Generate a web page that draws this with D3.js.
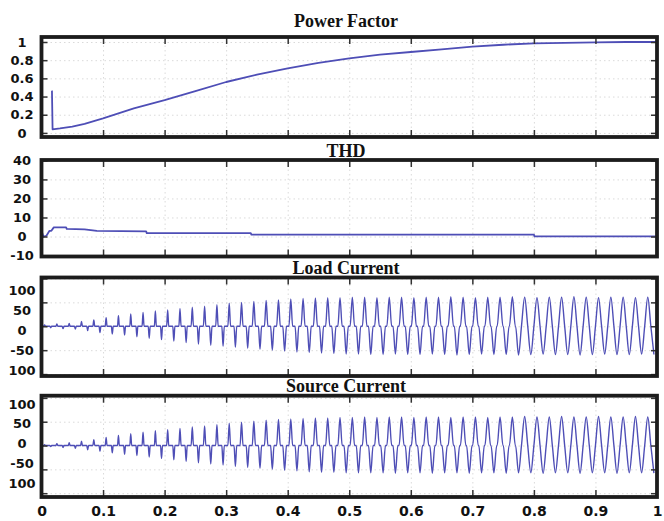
<!DOCTYPE html>
<html>
<head>
<meta charset="utf-8">
<script src="https://cdn.jsdelivr.net/npm/d3@7"></script>
<style>
  body { margin: 0; background: #fff; }
  svg { display: block; }
  .title { font-family: "Liberation Serif", "Times New Roman", serif; font-weight: bold; font-size: 18px; fill: #111; }
  .ylab text { font-family: "DejaVu Sans", sans-serif; font-weight: bold; font-size: 13px; fill: #111; }
  .xlab text { font-family: "DejaVu Sans", sans-serif; font-weight: bold; font-size: 14px; fill: #111; }
</style>
</head>
<body>
<div id="chart"></div>
<script>
// ---- data ----

// shared time axis
const timeTicks = [0, 0.1, 0.2, 0.3, 0.4, 0.5, 0.6, 0.7, 0.8, 0.9, 1];
const timeTickLabels = ["0", "0.1", "0.2", "0.3", "0.4", "0.5", "0.6", "0.7", "0.8", "0.9", "1"];

// power factor
const pfTime  = [0.0165, 0.017, 0.018, 0.03, 0.05, 0.07, 0.1, 0.15, 0.2, 0.25, 0.3, 0.35, 0.4, 0.45, 0.5, 0.55, 0.6, 0.65, 0.7, 0.75, 0.8, 0.85, 0.9, 0.95, 1];
const pfValue = [0.46, 0.46, 0.04, 0.05, 0.07, 0.1, 0.16, 0.27, 0.36, 0.46, 0.56, 0.64, 0.71, 0.77, 0.82, 0.86, 0.89, 0.92, 0.95, 0.97, 0.985, 0.99, 0.995, 1.0, 1.0];
const pfTicks = [0, 0.2, 0.4, 0.6, 0.8, 1];
const pfTickLabels = ["0", "0.2", "0.4", "0.6", "0.8", "1"];

// THD
const thdTime  = [0, 0.003, 0.008, 0.013, 0.016, 0.02, 0.04, 0.041, 0.07, 0.09, 0.17, 0.171, 0.34, 0.341, 0.8, 0.801, 1];
const thdValue = [3.3, -0.1, 0.4, 3.0, 3.0, 4.8, 4.8, 4.0, 3.8, 3.0, 2.7, 1.8, 1.8, 1.0, 1.0, 0.1, 0.1];
const thdTicks = [-10, 0, 10, 20, 30, 40];
const thdTickLabels = ["-10", "0", "10", "20", "30", "40"];

// currents: one positive and one negative peak per 50 Hz cycle
const linePeriod = 0.02;
const loadPeak = [3, 5, 6, 10, 13, 18, 22, 26, 29, 32,
                  34, 37, 40, 42, 45, 48, 50, 52, 54, 55,
                  57, 58, 59, 60, 60, 61, 61, 60, 61, 61,
                  60, 61, 61, 62, 61, 60, 61, 61, 62, 61,
                  60, 61, 61, 62, 61, 60, 61, 61, 60, 61];
const loadTrough = [-3, -5, -6, -9, -13, -16, -18, -22, -25, -28,
                    -31, -34, -37, -40, -42, -44, -46, -48, -50, -52,
                    -54, -55, -56, -57, -58, -58, -59, -59, -58, -59,
                    -59, -58, -59, -60, -59, -58, -59, -59, -60, -59,
                    -58, -59, -59, -60, -59, -58, -59, -59, -58, -59];
const sourcePeak = [2, 4, 6, 9, 12, 17, 21, 25, 28, 31,
                    33, 36, 39, 41, 44, 47, 49, 51, 53, 55,
                    56, 57, 58, 58, 59, 59, 60, 59, 60, 60,
                    59, 60, 60, 59, 60, 60, 59, 60, 60, 61,
                    60, 60, 61, 60, 60, 61, 60, 60, 61, 60];
const sourceTrough = [-2, -4, -6, -9, -12, -15, -18, -21, -24, -27,
                      -30, -33, -36, -39, -41, -44, -46, -48, -50, -52,
                      -53, -55, -56, -56, -57, -57, -57, -57, -58, -57,
                      -57, -58, -57, -57, -58, -57, -57, -58, -57, -57,
                      -58, -57, -57, -58, -57, -57, -58, -57, -57, -58];
// half width of each current pulse (s): narrow spikes early, full sine late
const pulseHalfWidth = [0.0015, 0.0015, 0.0015, 0.0015, 0.0015, 0.0015, 0.0015, 0.0015, 0.0016, 0.0016,
                        0.0017, 0.0018, 0.0019, 0.002, 0.002, 0.0022, 0.0024, 0.0026, 0.0028, 0.003,
                        0.003, 0.0032, 0.0033, 0.0034, 0.0035, 0.0036, 0.0037, 0.0038, 0.0039, 0.004,
                        0.004, 0.0041, 0.0042, 0.0043, 0.0044, 0.0045, 0.0046, 0.0047, 0.0048, 0.005,
                        0.005, 0.005, 0.005, 0.005, 0.005, 0.005, 0.005, 0.005, 0.005, 0.005];
const currentTicks = [-100, -50, 0, 50, 100];
const currentTickLabels = ["100", "-50", "0", "50", "100"];

// ---- build series ----
function zipSeries(ts, vs) {
  return ts.map((t, i) => ({ t: t, v: vs[i] }));
}

function currentSeries(peaks, troughs) {
  let pts = [{ t: 0, v: 0 }];
  peaks.forEach((p, i) => {
    let tp = linePeriod * i + linePeriod / 4;
    let tt = tp + linePeriod / 2;
    let w = pulseHalfWidth[i];
    if (w >= linePeriod / 4) {
      pts.push({ t: tp, v: p });
      pts.push({ t: tp + linePeriod / 4, v: 0 });
      pts.push({ t: tt, v: troughs[i] });
      if (i < peaks.length - 1) pts.push({ t: tt + linePeriod / 4, v: 0 });
    } else {
      pts.push({ t: tp - w, v: 0 }, { t: tp, v: p }, { t: tp + w, v: 0 });
      pts.push({ t: tt - w, v: 0 }, { t: tt, v: troughs[i] }, { t: tt + w, v: 0 });
    }
  });
  return pts;
}

const panels = [
  { title: "Power Factor", top: 37, bottom: 137, domain: [-0.045, 1.055], ticks: pfTicks, labels: pfTickLabels,
    labelRange: null, titleY: 27, data: zipSeries(pfTime, pfValue), curve: d3.curveLinear, lw: 1.8 },
  { title: "THD", top: 160, bottom: 256.5, domain: [-10.5, 40.2], ticks: thdTicks, labels: thdTickLabels,
    labelRange: null, titleY: 157, data: zipSeries(thdTime, thdValue), curve: d3.curveLinear, lw: 1.8 },
  { title: "Load Current", top: 277.5, bottom: 376, domain: [-104, 102], ticks: currentTicks, labels: currentTickLabels,
    labelRange: [370, 290], titleY: 273.5, data: currentSeries(loadPeak, loadTrough), curve: d3.curveMonotoneX, lw: 1.4 },
  { title: "Source Current", top: 395.7, bottom: 497, domain: [-108, 104.6], ticks: currentTicks, labels: currentTickLabels,
    labelRange: [483, 404], titleY: 392, data: currentSeries(sourcePeak, sourceTrough), curve: d3.curveMonotoneX, lw: 1.4 }
];

// ---- drawing ----
const width = 664, height = 521;
const svg = d3.select("#chart").append("svg")
  .attr("width", width)
  .attr("height", height);

const x = d3.scaleLinear().domain([0, 1]).range([41.5, 657]);
const innerTicks = timeTicks.slice(1, -1);
const lineColor = "#4e4eb6";

panels.forEach((p, idx) => {
  const y = d3.scaleLinear().domain(p.domain).range([p.bottom, p.top]);
  const g = svg.append("g");
  const h = p.bottom - p.top;
  const w = x(1) - x(0);

  // dotted grid
  const gx = g.append("g")
    .attr("transform", `translate(0,${p.bottom})`)
    .call(d3.axisBottom(x).tickValues(innerTicks).tickSize(-h).tickFormat(""));
  const gy = g.append("g")
    .attr("transform", `translate(${x(0)},0)`)
    .call(d3.axisLeft(y).tickValues(p.ticks).tickSize(-w).tickFormat(""));
  [gx, gy].forEach(a => {
    a.select(".domain").remove();
    a.selectAll("line").attr("stroke", "#dadada").attr("stroke-dasharray", "1.5,3");
  });

  // clip + line
  g.append("clipPath").attr("id", "clip" + idx)
    .append("rect").attr("x", x(0)).attr("y", p.top).attr("width", w).attr("height", h);

  const line = d3.line()
    .x(d => x(d.t))
    .y(d => y(d.v))
    .curve(p.curve);

  g.append("path")
    .datum(p.data)
    .attr("clip-path", `url(#clip${idx})`)
    .attr("fill", "none")
    .attr("stroke", lineColor)
    .attr("stroke-width", p.lw)
    .attr("stroke-linejoin", "round")
    .attr("d", line);

  // inward tick marks on all four sides
  const tickStyle = sel => {
    sel.select(".domain").remove();
    sel.selectAll("line").attr("stroke", "#333").attr("stroke-width", 1.5);
  };
  g.append("g").attr("transform", `translate(0,${p.top})`)
    .call(d3.axisBottom(x).tickValues(innerTicks).tickSize(7).tickFormat("")).call(tickStyle);
  g.append("g").attr("transform", `translate(0,${p.bottom})`)
    .call(d3.axisTop(x).tickValues(innerTicks).tickSize(7).tickFormat("")).call(tickStyle);
  g.append("g").attr("transform", `translate(${x(0)},0)`)
    .call(d3.axisRight(y).tickValues(p.ticks).tickSize(6).tickFormat("")).call(tickStyle);
  g.append("g").attr("transform", `translate(${x(1)},0)`)
    .call(d3.axisLeft(y).tickValues(p.ticks).tickSize(6).tickFormat("")).call(tickStyle);

  // thick frame
  g.append("rect")
    .attr("x", x(0)).attr("y", p.top)
    .attr("width", w).attr("height", h)
    .attr("fill", "none")
    .attr("stroke", "#1c1c1c")
    .attr("stroke-width", 3.8);

  // y tick labels
  const labelScale = p.labelRange ? d3.scaleLinear().domain([-100, 100]).range(p.labelRange) : y;
  const yl = g.append("g")
    .attr("class", "ylab")
    .attr("transform", "translate(22,0)")
    .call(d3.axisLeft(labelScale).tickValues(p.ticks).tickSize(0)
      .tickFormat((d, i) => p.labels[i]));
  yl.select(".domain").remove();
  yl.selectAll("text").attr("x", 0).attr("text-anchor", "middle");

  // title
  g.append("text")
    .attr("class", "title")
    .attr("x", 346)
    .attr("y", p.titleY)
    .attr("text-anchor", "middle")
    .text(p.title);
});

// x tick labels under the last panel
const xl = svg.append("g")
  .attr("class", "xlab")
  .attr("transform", `translate(0,${panels[3].bottom})`)
  .call(d3.axisBottom(x).tickValues(timeTicks).tickSize(0).tickPadding(9)
    .tickFormat((d, i) => timeTickLabels[i]));
xl.select(".domain").remove();
</script>
</body>
</html>
